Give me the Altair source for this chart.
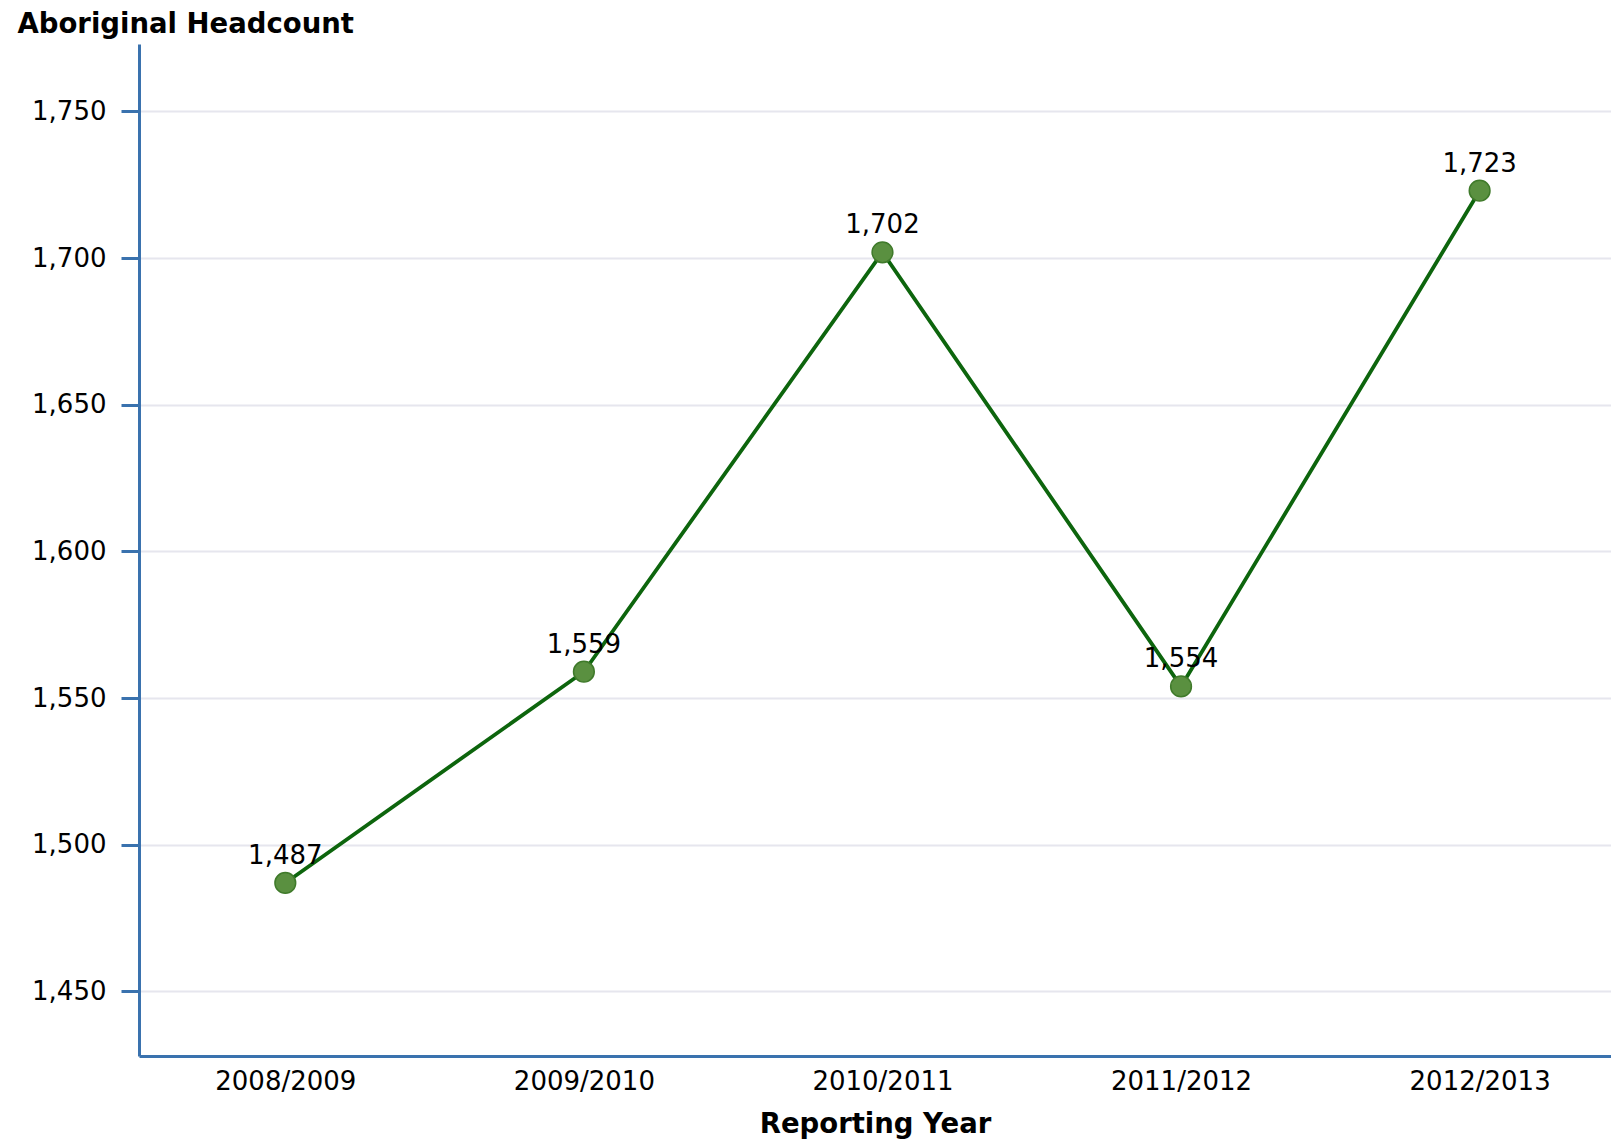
import altair as alt
import pandas as pd

years = ["2008/2009", "2009/2010", "2010/2011", "2011/2012", "2012/2013"]
headcount = [1487, 1559, 1702, 1554, 1723]
y_ticks = [1450, 1500, 1550, 1600, 1650, 1700, 1750]

df = pd.DataFrame({
    "idx": list(range(len(years))),
    "year": years,
    "count": headcount,
})
df["label"] = df["count"].map(lambda v: f"{v:,}")

label_array = "[" + ",".join(f"'{y}'" for y in years) + "]"

x = alt.X(
    "idx:Q",
    scale=alt.Scale(domain=[-0.49, 4.44], nice=False, zero=False),
    axis=alt.Axis(
        title="Reporting Year",
        values=list(range(len(years))),
        labelExpr=f"{label_array}[datum.value]",
        grid=False,
        ticks=False,
        domainColor="#3a72ae",
        domainWidth=3,
        labelFont="DejaVu Sans",
        labelFontSize=26,
        labelColor="#000000",
        labelPadding=12,
        labelBaseline="top",
        titleFont="DejaVu Sans",
        titleFontWeight="bold",
        titleFontSize=27.5,
        titleColor="#000000",
        titleY=76,
        titleBaseline="alphabetic",
    ),
)

y = alt.Y(
    "count:Q",
    scale=alt.Scale(domain=[1428, 1773], nice=False, zero=False),
    axis=alt.Axis(
        title="Aboriginal Headcount",
        values=y_ticks,
        format=",d",
        grid=True,
        gridColor="#e6e6ee",
        gridWidth=2,
        tickColor="#3a72ae",
        tickWidth=3,
        tickSize=18,
        domainColor="#3a72ae",
        domainWidth=3,
        labelFont="DejaVu Sans",
        labelFontSize=26,
        labelColor="#000000",
        labelPadding=15,
        labelBaseline="middle",
        titleFont="DejaVu Sans",
        titleFontWeight="bold",
        titleFontSize=27.5,
        titleColor="#000000",
        titleAngle=0,
        titleAlign="left",
        titleBaseline="alphabetic",
        titleX=-122,
        titleY=-12,
    ),
)

base = alt.Chart(df)

line = base.mark_line(color="#0d650d", strokeWidth=3.8).encode(x=x, y=y)
points = base.mark_point(
    filled=True, shape="circle", size=430, fill="#5a9040", stroke="#3f7a2a", strokeWidth=1.5, opacity=1
).encode(x=x, y=y)
labels = base.mark_text(
    font="DejaVu Sans", fontSize=26, color="#000000", dy=-19, baseline="alphabetic", align="center"
).encode(x=x, y=y, text="label:N")

chart = (
    alt.layer(line, points, labels)
    .properties(
        width=1472,
        height=1012,
        autosize=alt.AutoSizeParams(type="none"),
        padding={"left": 131, "top": 36, "right": 0, "bottom": 86},
    )
    .configure_view(stroke=None)
)

chart.save("out.html", embed_options={"renderer": "svg", "actions": False})
